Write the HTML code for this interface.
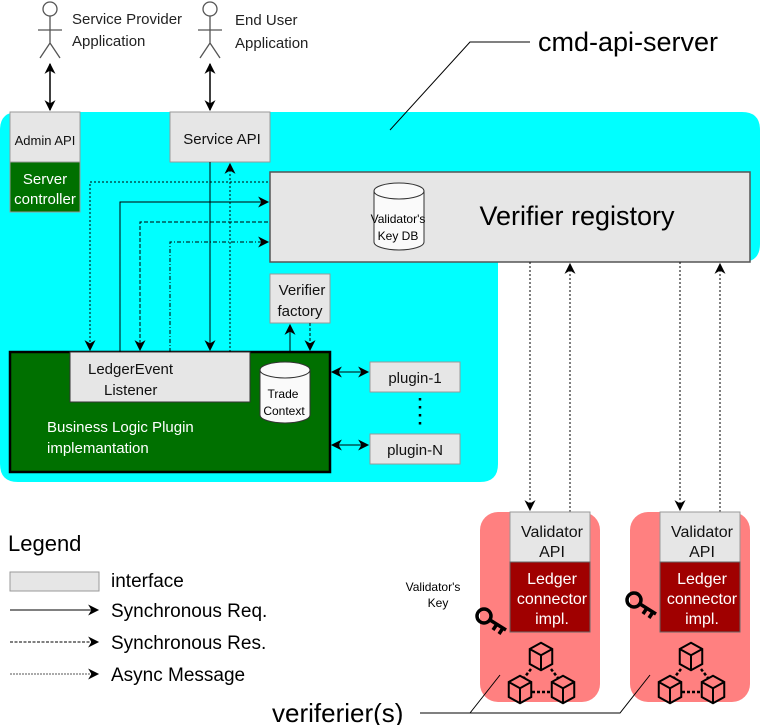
<!DOCTYPE html>
<html><head><meta charset="utf-8"><style>
html,body{margin:0;padding:0;background:#fff}
svg{display:block}
text{font-family:"Liberation Sans","DejaVu Sans",sans-serif}
</style></head><body>
<svg width="760" height="725" viewBox="0 0 760 725" xmlns="http://www.w3.org/2000/svg">
<defs>
<marker id="a" viewBox="0 0 10 10" refX="9" refY="5" markerWidth="14" markerHeight="11" orient="auto-start-reverse" markerUnits="userSpaceOnUse"><path d="M0,0 L10,5 L0,10 L3,5 z" fill="#000"/></marker>
<g id="cube">
<path d="M-9,-4 L0,-9 L9,-4 L9,8 L0,13 L-9,8 z M-9,-4 L0,1 L9,-4 M0,1 L0,13" fill="none" stroke="#000" stroke-width="1.6"/>
</g>
</defs>
<path d="M18,112 H742 Q760,112 760,130 V244 Q760,262 742,262 H498 V464 Q498,482 480,482 H18 Q0,482 0,464 V130 Q0,112 18,112 z" fill="#00ffff"/>
<g stroke="#555" fill="none" stroke-width="1.3">
<circle cx="50" cy="9" r="7" fill="#fff"/><path d="M50,16 V43 M38,30 H62 M50,43 L40,58 M50,43 L60,58"/>
<circle cx="210" cy="9" r="7" fill="#fff"/><path d="M210,16 V43 M198,30 H222 M210,43 L200,58 M210,43 L220,58"/>
</g>
<text x="72" y="24" font-size="15" fill="#222">Service Provider</text>
<text x="72" y="46" font-size="15" fill="#222">Application</text>
<text x="235" y="25" font-size="15" fill="#222">End User</text>
<text x="235" y="48" font-size="15" fill="#222">Application</text>
<g stroke="#000" stroke-width="1.5" fill="none">
<line x1="50" y1="64" x2="50" y2="110" marker-start="url(#a)" marker-end="url(#a)"/>
<line x1="210" y1="64" x2="210" y2="110" marker-start="url(#a)" marker-end="url(#a)"/>
</g>
<text x="538" y="51" font-size="27" fill="#000">cmd-api-server</text>
<path d="M530,42 H470 L390,130" stroke="#000" fill="none" stroke-width="1"/>
<rect x="10" y="112" width="70" height="50" fill="#e6e6e6" stroke="#999"/>
<text x="45" y="145" font-size="13" text-anchor="middle" fill="#111">Admin API</text>
<rect x="10" y="162" width="70" height="50" fill="#007000" stroke="#999"/>
<text x="45" y="184" font-size="15" text-anchor="middle" fill="#fff">Server</text>
<text x="45" y="204" font-size="15" text-anchor="middle" fill="#fff">controller</text>
<rect x="170" y="112" width="100" height="50" fill="#e6e6e6" stroke="#999"/>
<text x="222" y="144" font-size="15" text-anchor="middle" fill="#111">Service API</text>
<rect x="270" y="172" width="480" height="90" fill="#e6e6e6" stroke="#555" stroke-width="1.5"/>
<text x="577" y="225" font-size="27" text-anchor="middle" fill="#000">Verifier registory</text>
<path d="M374,191 V242 A25,8 0 0 0 424,242 V191" fill="#fafafa" stroke="#333"/>
<ellipse cx="399" cy="191" rx="25" ry="8" fill="#fafafa" stroke="#333"/>
<text x="398" y="223" font-size="12" text-anchor="middle">Validator's</text>
<text x="398" y="240" font-size="12" text-anchor="middle">Key DB</text>
<rect x="270" y="274" width="60" height="49" fill="#e6e6e6" stroke="#999"/>
<text x="302" y="295" font-size="15" text-anchor="middle" fill="#111">Verifier</text>
<text x="300" y="316" font-size="15" text-anchor="middle" fill="#111">factory</text>
<rect x="10" y="352" width="320" height="120" fill="#007000" stroke="#000" stroke-width="2.5"/>
<rect x="70" y="352" width="180" height="50" fill="#e6e6e6" stroke="#333"/>
<text x="88" y="374" font-size="15" fill="#111">LedgerEvent</text>
<text x="104" y="395" font-size="15" fill="#111">Listener</text>
<path d="M260,370 V415 A25,8 0 0 0 310,415 V370" fill="#fafafa" stroke="#333"/>
<ellipse cx="285" cy="370" rx="25" ry="8" fill="#fafafa" stroke="#333"/>
<text x="283" y="398" font-size="12" text-anchor="middle">Trade</text>
<text x="284" y="415" font-size="12" text-anchor="middle">Context</text>
<text x="47" y="432" font-size="15" fill="#fff">Business Logic Plugin</text>
<text x="47" y="453" font-size="15" fill="#fff">implemantation</text>
<rect x="370" y="362" width="90" height="30" fill="#e6e6e6" stroke="#999"/>
<text x="415" y="383" font-size="15" text-anchor="middle" fill="#111">plugin-1</text>
<rect x="370" y="434" width="90" height="30" fill="#e6e6e6" stroke="#999"/>
<text x="415" y="455" font-size="15" text-anchor="middle" fill="#111">plugin-N</text>
<path d="M420,398 V426" stroke="#000" stroke-width="2.5" stroke-dasharray="2.5,5.5" fill="none"/>
<g fill="none" stroke="#000" stroke-width="1">
<line x1="332" y1="372" x2="368" y2="372" marker-start="url(#a)" marker-end="url(#a)"/>
<line x1="332" y1="445" x2="368" y2="445" marker-start="url(#a)" marker-end="url(#a)"/>
<path d="M268,182 H90 V350" stroke-dasharray="2,2" marker-end="url(#a)"/>
<path d="M120,352 V202 H268" marker-end="url(#a)"/>
<path d="M268,222 H140 V350" stroke-dasharray="4,2" marker-end="url(#a)"/>
<path d="M170,352 V242 H268" stroke-dasharray="4,2,1,2" marker-end="url(#a)"/>
<path d="M210,162 V350" marker-end="url(#a)"/>
<path d="M230,352 V164" stroke-dasharray="2,2" marker-end="url(#a)"/>
<path d="M290,352 V325" marker-end="url(#a)"/>
<path d="M310,323 V350" stroke-dasharray="3,2" marker-end="url(#a)"/>
<path d="M530,262 V510" stroke-dasharray="2,2" marker-end="url(#a)"/>
<path d="M570,512 V264" stroke-dasharray="2,2" marker-end="url(#a)"/>
<path d="M680,262 V510" stroke-dasharray="2,2" marker-end="url(#a)"/>
<path d="M720,512 V264" stroke-dasharray="2,2" marker-end="url(#a)"/>
</g>
<rect x="480" y="512" width="120" height="190" rx="18" fill="#ff8080"/>
<rect x="510" y="512" width="80" height="50" fill="#e6e6e6" stroke="#999"/>
<rect x="510" y="562" width="80" height="70" fill="#a00000" stroke="#666"/>
<rect x="630" y="512" width="120" height="190" rx="18" fill="#ff8080"/>
<rect x="660" y="512" width="80" height="50" fill="#e6e6e6" stroke="#999"/>
<rect x="660" y="562" width="80" height="70" fill="#a00000" stroke="#666"/>
<g font-size="16" text-anchor="middle">
<text x="552" y="537" fill="#111">Validator</text><text x="552" y="557" fill="#111">API</text>
<text x="552" y="584" fill="#fff">Ledger</text><text x="552" y="604" fill="#fff">connector</text><text x="552" y="624" fill="#fff">impl.</text>
<text x="702" y="537" fill="#111">Validator</text><text x="702" y="557" fill="#111">API</text>
<text x="702" y="584" fill="#fff">Ledger</text><text x="702" y="604" fill="#fff">connector</text><text x="702" y="624" fill="#fff">impl.</text>
</g>
<text x="433" y="591" font-size="12" text-anchor="middle">Validator's</text>
<text x="438" y="607" font-size="12" text-anchor="middle">Key</text>
<g fill="none" stroke="#000" stroke-width="3.5">
<circle cx="484" cy="616" r="7"/><path d="M490,620 L506,630 M497,624 L493,630 M503,628 L499,634"/>
<circle cx="634" cy="600" r="7"/><path d="M640,604 L656,614 M647,608 L643,614 M653,612 L649,618"/>
</g>
<g transform="translate(541,654) scale(1.25)"><use href="#cube"/></g>
<g transform="translate(520,687) scale(1.25)"><use href="#cube"/></g>
<g transform="translate(563,687) scale(1.25)"><use href="#cube"/></g>
<g transform="translate(691,654) scale(1.25)"><use href="#cube"/></g>
<g transform="translate(670,687) scale(1.25)"><use href="#cube"/></g>
<g transform="translate(713,687) scale(1.25)"><use href="#cube"/></g>
<g stroke="#000" stroke-width="2.5" fill="none" stroke-dasharray="3,2">
<path d="M531,669 L524,678 M551,669 L558,678 M532,692 H551"/>
<path d="M681,669 L674,678 M701,669 L708,678 M682,692 H701"/>
</g>
<text x="272" y="722" font-size="26" fill="#000">veriferier(s)</text>
<path d="M420,713 H620 L650,675 M470,713 L500,675" stroke="#000" fill="none" stroke-width="1"/>
<text x="8" y="551" font-size="22" fill="#000">Legend</text>
<rect x="10" y="572" width="89" height="19" fill="#e6e6e6" stroke="#999"/>
<text x="111" y="587" font-size="19">interface</text>
<g stroke="#000" stroke-width="1" fill="none">
<line x1="10" y1="610" x2="98" y2="610" marker-end="url(#a)"/>
<line x1="10" y1="642" x2="98" y2="642" stroke-dasharray="3,1.5" marker-end="url(#a)"/>
<line x1="10" y1="674" x2="98" y2="674" stroke-dasharray="2,1" stroke="#555" marker-end="url(#a)"/>
</g>
<text x="111" y="617" font-size="19">Synchronous Req.</text>
<text x="111" y="649" font-size="19">Synchronous Res.</text>
<text x="111" y="681" font-size="19">Async Message</text>
</svg>
</body></html>
